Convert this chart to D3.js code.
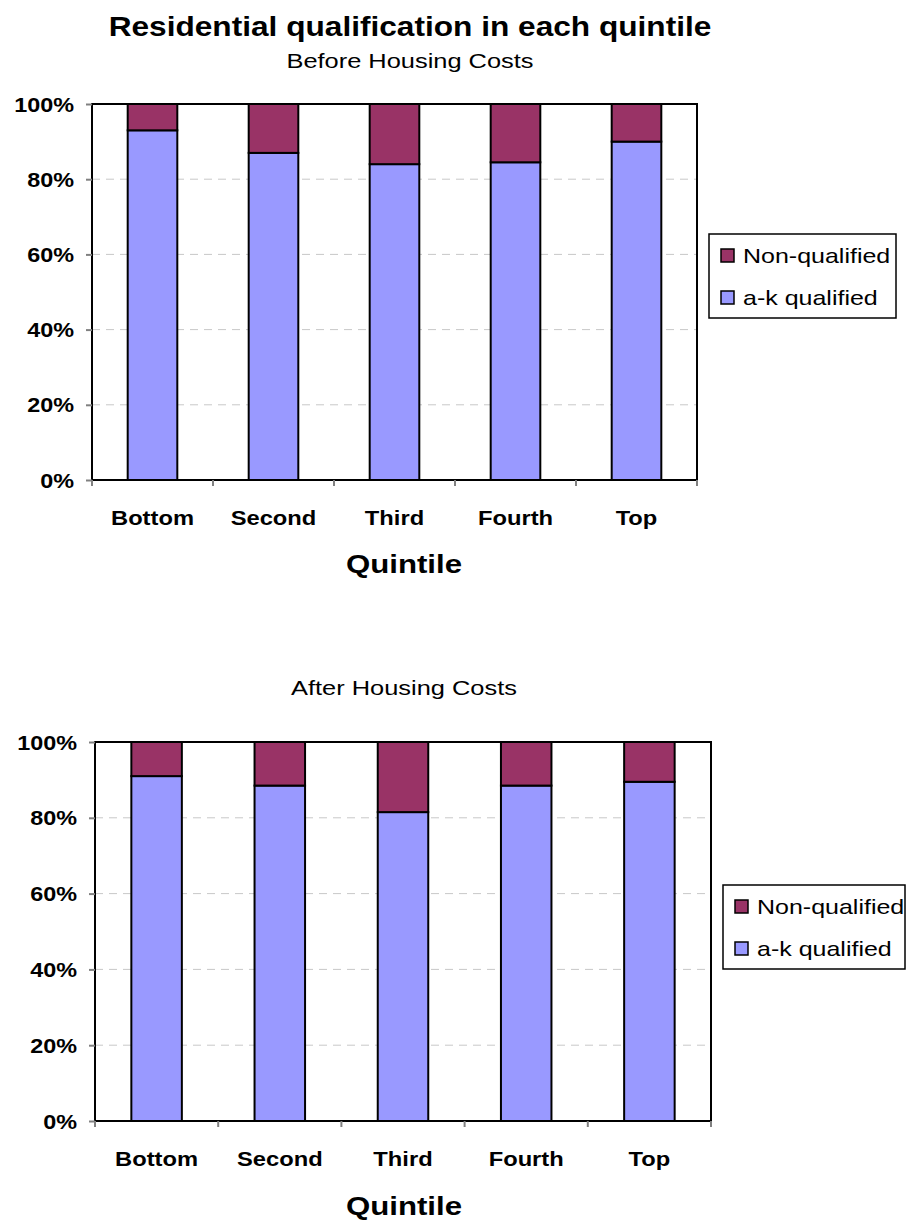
<!DOCTYPE html>
<html>
<head>
<meta charset="utf-8">
<script src="https://cdn.jsdelivr.net/npm/d3@7"></script>
<style>
  html, body { margin: 0; padding: 0; background: #fff; }
  svg { display: block; font-family: Arial, "Liberation Sans", sans-serif; }
</style>
</head>
<body>
<svg id="chart" width="908" height="1226"></svg>
<script>
// Quintile categories and the share of each group (per cent)
const quintiles = ["Bottom", "Second", "Third", "Fourth", "Top"];
const qualifiedBHC = [93, 87, 84, 84.5, 90];
const qualifiedAHC = [91, 88.5, 81.5, 88.5, 89.5];
const nonQualifiedBHC = qualifiedBHC.map(v => 100 - v);
const nonQualifiedAHC = qualifiedAHC.map(v => 100 - v);
const yTicks = [0, 20, 40, 60, 80, 100];
const seriesNames = ["Non-qualified", "a-k qualified"];
const seriesColors = { "Non-qualified": "#993366", "a-k qualified": "#9999FF" };

// Horizontal stretch applied to all lettering (the chart's text is set wide)
const SX = 1.17;

const svg = d3.select("#chart");

// Text placed at (x, y) and stretched horizontally about its anchor
function label(parent, x, y, str, size, weight, anchor, sx) {
  return parent.append("text")
    .attr("transform", `translate(${x},${y}) scale(${sx || SX},1)`)
    .attr("text-anchor", anchor || "middle")
    .attr("font-size", size)
    .attr("font-weight", weight || "normal")
    .text(str);
}

// Main title
label(svg, 410, 36, "Residential qualification in each quintile", 28, "bold", "middle", 1.13);

function drawPanel(opts) {
  const { subtitle, subtitleY, left, right, top, bottom, qualified, nonQualified,
          legend, catY, axisTitleY } = opts;

  label(svg, opts.subtitleX, subtitleY, subtitle, 20, "normal", "middle", 1.27);

  const x = d3.scaleBand().domain(quintiles).range([left, right]).padding(0);
  const y = d3.scaleLinear().domain([0, 100]).range([bottom, top]);
  const barW = x.bandwidth() * 0.41;

  const g = svg.append("g");

  // Dashed gridlines
  g.selectAll("line.grid")
    .data(yTicks.filter(t => t > 0 && t < 100))
    .join("line")
    .attr("x1", left).attr("x2", right)
    .attr("y1", d => y(d)).attr("y2", d => y(d))
    .attr("stroke", "#c8c8c8").attr("stroke-width", 1)
    .attr("stroke-dasharray", "8,6");

  // Stacked bars
  const rows = quintiles.map((q, i) => ({ q, qual: qualified[i], non: nonQualified[i] }));
  g.selectAll("rect.qual")
    .data(rows).join("rect")
    .attr("x", d => x(d.q) + (x.bandwidth() - barW) / 2)
    .attr("width", barW)
    .attr("y", d => y(d.qual))
    .attr("height", d => y(0) - y(d.qual))
    .attr("fill", seriesColors["a-k qualified"])
    .attr("stroke", "#000").attr("stroke-width", 2);
  g.selectAll("rect.non")
    .data(rows).join("rect")
    .attr("x", d => x(d.q) + (x.bandwidth() - barW) / 2)
    .attr("width", barW)
    .attr("y", d => y(d.qual + d.non))
    .attr("height", d => y(d.qual) - y(d.qual + d.non))
    .attr("fill", seriesColors["Non-qualified"])
    .attr("stroke", "#000").attr("stroke-width", 2);

  // Plot frame
  g.append("rect")
    .attr("x", left).attr("y", top)
    .attr("width", right - left).attr("height", bottom - top)
    .attr("fill", "none").attr("stroke", "#000").attr("stroke-width", 2);

  // Y axis
  const yAxis = d3.axisLeft(y).tickValues(yTicks).tickFormat(d => d + "%")
    .tickSize(6).tickPadding(12);
  const ya = svg.append("g").attr("transform", `translate(${left},0)`).call(yAxis);
  ya.select(".domain").remove();
  ya.selectAll(".tick line").attr("stroke", "#808080").attr("stroke-width", 2);
  ya.selectAll(".tick text")
    .attr("font-size", 20).attr("font-weight", "bold")
    .attr("font-family", "Arial, 'Liberation Sans', sans-serif")
    .attr("fill", "#000")
    .attr("x", null).attr("dy", null)
    .attr("transform", `translate(-18,7) scale(${SX},1)`);

  // X axis: tick marks at category boundaries
  const bounds = quintiles.map(q => x(q)).concat([right]);
  svg.append("g").selectAll("line")
    .data(bounds).join("line")
    .attr("x1", d => d).attr("x2", d => d)
    .attr("y1", bottom).attr("y2", bottom + 6)
    .attr("stroke", "#808080").attr("stroke-width", 2);

  const cats = svg.append("g");
  quintiles.forEach(q => {
    label(cats, x(q) + x.bandwidth() / 2, catY, q, 21, "bold", "middle", 1.13);
  });

  label(svg, opts.axisTitleX, axisTitleY, "Quintile", 26, "bold", "middle", 1.2);

  // Legend
  const lg = svg.append("g").attr("transform", `translate(${legend.x},${legend.y})`);
  lg.append("rect")
    .attr("width", legend.w).attr("height", legend.h)
    .attr("fill", "#fff").attr("stroke", "#000").attr("stroke-width", 1.5);
  seriesNames.forEach((name, i) => {
    const yy = 15 + i * 42;
    lg.append("rect")
      .attr("x", 12).attr("y", yy)
      .attr("width", 13).attr("height", 13)
      .attr("fill", seriesColors[name]).attr("stroke", "#000").attr("stroke-width", 1.5);
    label(lg, 34, yy + 14, name, 21, "normal", "start", 1.19);
  });
}

drawPanel({
  subtitle: "Before Housing Costs", subtitleX: 410, subtitleY: 68,
  left: 92, right: 697, top: 104, bottom: 480,
  qualified: qualifiedBHC, nonQualified: nonQualifiedBHC,
  legend: { x: 709, y: 234, w: 187, h: 84 },
  catY: 525, axisTitleX: 404, axisTitleY: 573
});

drawPanel({
  subtitle: "After Housing Costs", subtitleX: 404, subtitleY: 695,
  left: 95, right: 711, top: 742, bottom: 1121,
  qualified: qualifiedAHC, nonQualified: nonQualifiedAHC,
  legend: { x: 723, y: 885, w: 182, h: 84 },
  catY: 1166, axisTitleX: 404, axisTitleY: 1215
});
</script>
</body>
</html>
